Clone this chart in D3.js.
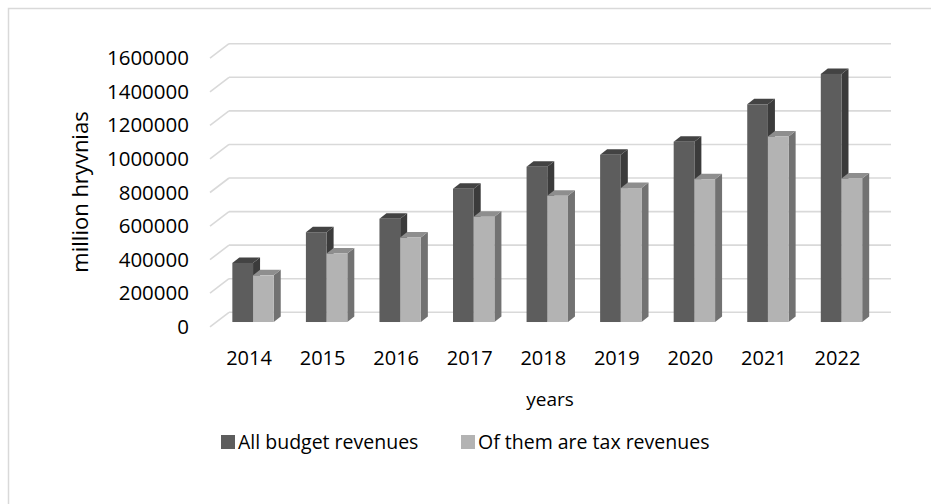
<!DOCTYPE html>
<html>
<head>
<meta charset="utf-8">
<script src="https://cdn.jsdelivr.net/npm/d3@7"></script>
<style>
  html, body { margin: 0; padding: 0; background: #fff; }
  svg { display: block; font-family: "Open Sans", Lato, sans-serif; }
</style>
</head>
<body>
<svg id="chart" width="931" height="504"></svg>
<script>
// Budget revenues of Ukraine, million hryvnias
const years = ["2014", "2015", "2016", "2017", "2018", "2019", "2020", "2021", "2022"];
const allRevenues = [352000, 535000, 615000, 794000, 925000, 996000, 1074000, 1297000, 1478000];
const taxRevenues = [278000, 408000, 503000, 627000, 752000, 798000, 851000, 1105000, 855000];
const yTicks = [0, 200000, 400000, 600000, 800000, 1000000, 1200000, 1400000, 1600000];
const seriesNames = ["All budget revenues", "Of them are tax revenues"];

const FONT = "'Open Sans', Lato, sans-serif";
const svg = d3.select("#chart");

// chart frame
svg.append("rect")
  .attr("x", 8.5).attr("y", 8.5).attr("width", 940).attr("height", 520)
  .attr("fill", "none").attr("stroke", "#d9d9d9").attr("stroke-width", 1.5);

// pseudo-3D geometry: back wall, floor depth and the plane the bars stand in
const backLeft = 229, backRight = 891;
const depthX = -19, depthY = 14.5;      // back wall -> front edge
const barPlane = 0.67;                   // fraction of depth where bar fronts sit
const barDX = 7, barDY = -5.5;           // bar top/side depth

const yBack = d3.scaleLinear().domain([0, 1600000]).range([312.3, 43.7]);

// gridlines on the back wall with the diagonal on the left side wall
const grid = svg.append("g");
yTicks.forEach(t => {
  const yb = yBack(t);
  grid.append("line")
    .attr("x1", backLeft).attr("x2", backRight)
    .attr("y1", yb).attr("y2", yb)
    .attr("stroke", "#d9d9d9").attr("stroke-width", 1.6);
  grid.append("line")
    .attr("x1", backLeft + depthX).attr("y1", yb + depthY)
    .attr("x2", backLeft).attr("y2", yb)
    .attr("stroke", "#d9d9d9").attr("stroke-width", 1.6);
});

// value axis labels, placed at the front edge of the side wall
const yFront = d3.scaleLinear().domain([0, 1600000])
  .range([312.3 + depthY, 43.7 + depthY]);
const yAxis = d3.axisLeft(yFront).tickValues(yTicks).tickSize(0).tickPadding(0)
  .tickFormat(d3.format("d"));
svg.append("g")
  .attr("transform", "translate(189,0)")
  .call(yAxis)
  .call(g => g.select(".domain").remove())
  .call(g => g.selectAll("text")
    .attr("font-family", FONT)
    .attr("font-size", 20.5).attr("fill", "#000"));

// bar plane scales
const planeX0 = backLeft + depthX * barPlane;
const planeX1 = backRight + depthX * barPlane;
const yBar = d3.scaleLinear().domain([0, 1600000])
  .range([312.3 + depthY * barPlane, 43.7 + depthY * barPlane]);
const x = d3.scaleBand().domain(years).range([planeX0, planeX1]);
const barW = 20.7;

const series = [
  { values: allRevenues, front: "#5d5d5d", top: "#434343", side: "#3b3b3b" },
  { values: taxRevenues, front: "#b3b3b3", top: "#8e8e8e", side: "#727272" }
];

const bars = svg.append("g");
years.forEach((yr, i) => {
  const cx = x(yr) + x.bandwidth() / 2;
  series.forEach((s, k) => {
    const x0 = cx - barW + k * barW;
    const x1 = x0 + barW;
    const y0 = yBar(0);
    const y1 = yBar(s.values[i]);
    const g = bars.append("g");
    // side face
    g.append("path")
      .attr("d", `M${x1},${y0} L${x1 + barDX},${y0 + barDY} L${x1 + barDX},${y1 + barDY} L${x1},${y1} Z`)
      .attr("fill", s.side);
    // top face
    g.append("path")
      .attr("d", `M${x0},${y1} L${x0 + barDX},${y1 + barDY} L${x1 + barDX},${y1 + barDY} L${x1},${y1} Z`)
      .attr("fill", s.top);
    // front face
    g.append("rect")
      .attr("x", x0).attr("y", y1).attr("width", barW).attr("height", y0 - y1)
      .attr("fill", s.front);
  });
});

// category labels
svg.append("g").selectAll("text").data(years).join("text")
  .attr("x", d => x(d) + x.bandwidth() / 2 - 4)
  .attr("y", 358)
  .attr("dy", "0.35em")
  .attr("text-anchor", "middle")
  .attr("font-family", FONT)
  .attr("font-size", 20).attr("fill", "#000")
  .text(d => d);

// axis titles
svg.append("text")
  .attr("x", 550).attr("y", 399).attr("dy", "0.35em")
  .attr("text-anchor", "middle").attr("font-family", FONT)
  .attr("font-size", 19).attr("fill", "#000")
  .text("years");
svg.append("text")
  .attr("transform", "translate(80,192) rotate(-90)")
  .attr("dy", "0.35em")
  .attr("text-anchor", "middle").attr("font-family", FONT)
  .attr("font-size", 22).attr("fill", "#000")
  .text("million hryvnias");

// legend
const legendItems = [
  { name: seriesNames[0], color: series[0].front, x: 221 },
  { name: seriesNames[1], color: series[1].front, x: 461 }
];
const legend = svg.append("g");
legendItems.forEach(it => {
  legend.append("rect")
    .attr("x", it.x).attr("y", 435).attr("width", 14).attr("height", 14)
    .attr("fill", it.color);
  legend.append("text")
    .attr("x", it.x + 17).attr("y", 442).attr("dy", "0.35em")
    .attr("font-family", FONT)
    .attr("font-size", 19.5).attr("fill", "#000")
    .text(it.name);
});
</script>
</body>
</html>
